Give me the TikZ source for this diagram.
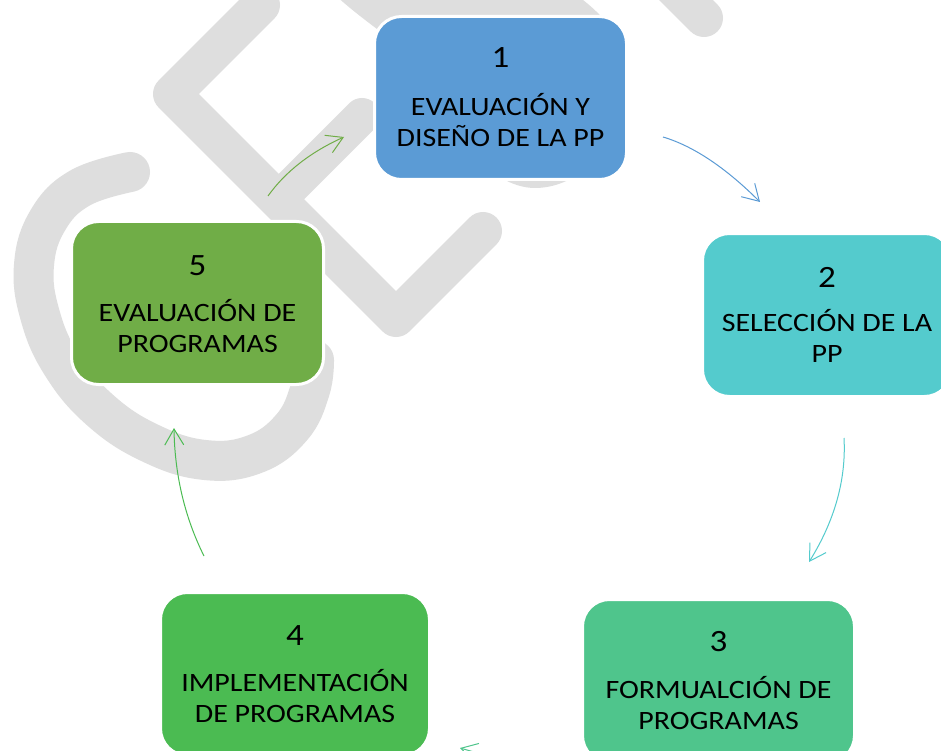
\documentclass[tikz,border=0pt]{standalone}
\usepackage{fontspec}
\setmainfont{Carlito}[FakeStretch=1.13]
\usetikzlibrary{arrows.meta}
\definecolor{wm}{RGB}{222,222,222}
\definecolor{cA}{RGB}{91,155,213}
\definecolor{cB}{RGB}{84,203,205}
\definecolor{cC}{RGB}{79,197,140}
\definecolor{cD}{RGB}{75,187,82}
\definecolor{cE}{RGB}{112,173,71}
\newcommand{\tstrut}{\rule{0pt}{25pt}}
\begin{document}
\begin{tikzpicture}[x=1pt,y=-1pt,
  stepbox/.style={rectangle, rounded corners=27pt, draw=white, line width=3pt, inner sep=0pt, minimum height=163pt},
  numtxt/.style={font=\fontsize{31}{37}\selectfont, anchor=base, inner sep=0pt},
  lbltxt/.style={font=\fontsize{26.5}{31}\selectfont, align=center, anchor=north, inner sep=0pt},
  wmline/.style={draw=wm, line width=40pt, line cap=round, line join=round},
  flow/.style={line width=1pt, -{Straight Barb[length=16pt,width=19pt]}},
]
\useasboundingbox (0,0) rectangle (941,751);
\clip (0,0) rectangle (941,751);
\fill[white] (0,0) rectangle (941,751);

% watermark
\path[wmline] plot[smooth, tension=0.7] coordinates {(130,172) (80,188) (48,220) (34,265) (40,315) (62,365) (100,410) (150,443) (205,460) (255,454) (292,427) (310,390) (314,360)};
\path[wmline, line width=38pt] (261,5) -- (172,94) -- (396,318) -- (483,231);
\path[wmline, line width=36pt] (278,200) -- (362,116);
\path[wmline, line width=38pt] (664,-22) -- (704,18);
\fill[wm] (330,-10) .. controls (345,5) and (365,20) .. (385,35)
  .. controls (440,130) and (490,188) .. (535,188)
  .. controls (585,188) and (628,135) .. (627,80)
  .. controls (626,50) and (615,25) .. (583,0) -- (583,-10) -- cycle;

% connectors
\coordinate (a51s) at (268,196); \coordinate (a51e) at (344,137);
\coordinate (a12s) at (663,137); \coordinate (a12e) at (760,202);
\coordinate (a23s) at (844,438); \coordinate (a23e) at (809,562);
\coordinate (a34s) at (590,790); \coordinate (a34e) at (460,748);
\coordinate (a45s) at (204,556); \coordinate (a45e) at (174,428);
\draw[flow, draw=cE] (a51s) .. controls (285.3,171.7) and (310.7,152) .. (a51e);
\draw[flow, draw=cA] (a12s) .. controls (693.3,146) and (725.7,167.7) .. (a12e);
\draw[flow, draw=cB] (a23s) .. controls (846.3,479.3) and (834.7,520.7) .. (a23e);
\draw[flow, draw=cC] (a34s) .. controls (543.3,773.3) and (500,759.3) .. (a34e);
\draw[flow, draw=cD] (a45s) .. controls (184.7,517.3) and (174.7,474.7) .. (a45e);

% boxes
\node[stepbox, fill=cA, minimum width=252pt] (b1) at (500.5,98) {};
\node[stepbox, fill=cB, minimum width=249pt] (b2) at (827,315) {};
\node[stepbox, fill=cC, minimum width=272pt] (b3) at (718.5,681) {};
\node[stepbox, fill=cD, minimum width=269pt] (b4) at (295,674) {};
\node[stepbox, fill=cE, minimum width=252pt] (b5) at (197.5,303) {};

% texts
\node[numtxt] (n1) at (500.5,68) {1};
\node[lbltxt] (l1) at (500.5,90.4) {\tstrut EVALUACIÓN Y\\DISEÑO DE LA PP};
\node[numtxt] (n2) at (827,287) {2};
\node[lbltxt] (l2) at (827,306.4) {\tstrut SELECCIÓN DE LA\\PP};
\node[numtxt] (n3) at (718.5,651) {3};
\node[lbltxt] (l3) at (718.5,673.4) {\tstrut FORMUALCIÓN DE\\PROGRAMAS};
\node[numtxt] (n4) at (295,645) {4};
\node[lbltxt] (l4) at (295,666.7) {\tstrut IMPLEMENTACIÓN\\DE PROGRAMAS};
\node[numtxt] (n5) at (197.5,275) {5};
\node[lbltxt] (l5) at (197.5,296.4) {\tstrut EVALUACIÓN DE\\PROGRAMAS};
\end{tikzpicture}
\end{document}
